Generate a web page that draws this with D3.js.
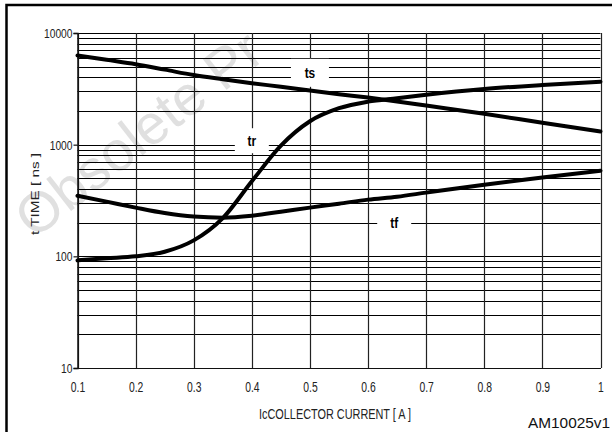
<!DOCTYPE html>
<html>
<head>
<meta charset="utf-8">
<script src="https://cdn.jsdelivr.net/npm/d3@7/dist/d3.min.js"></script>
<style>
html,body{margin:0;padding:0;background:#fff;}
svg{display:block;}
text{font-family:"Liberation Sans",Arial,sans-serif;}
</style>
</head>
<body>
<svg id="chart" width="612" height="432"></svg>
<script>
// ---- data ----
const current = [0.1, 0.15, 0.2, 0.25, 0.3, 0.35, 0.4, 0.45, 0.5, 0.55, 0.6, 0.65, 0.7, 0.8, 0.9, 1.0];
const tsValues = [6300, 5750, 5250, 4700, 4200, 3850, 3550, 3300, 3050, 2830, 2640, 2440, 2240, 1890, 1570, 1310];
const trValues = [92, 96, 100, 110, 139, 220, 470, 980, 1620, 2120, 2430, 2610, 2800, 3150, 3420, 3660];
const tfValues = [349, 309, 273, 244, 227, 222, 231, 251, 273, 296, 322, 342, 372, 438, 507, 585];
const xTickValues = [0.1, 0.2, 0.3, 0.4, 0.5, 0.6, 0.7, 0.8, 0.9, 1];
const xTickLabels = ["0.1", "0.2", "0.3", "0.4", "0.5", "0.6", "0.7", "0.8", "0.9", "1"];
const yTickValues = [10, 100, 1000, 10000];
const yTickLabels = ["10", "100", "1000", "10000"];
const curveNames = ["ts", "tr", "tf"];
const curveLabelX = [0.5, 0.4, 0.645];
const curveLabelY = [4400, 1085, 200];
const xTitle = "IcCOLLECTOR CURRENT  [ A ]";
const yTitle = "t TIME [ ns ]";
const codeLabel = "AM10025v1";
const watermark = "Obsolete Pr";

const svg = d3.select("#chart");
svg.append("rect").attr("width", 612).attr("height", 432).attr("fill", "#fff");

// watermark (behind everything)
svg.append("text")
  .attr("transform", "translate(34,240) rotate(-38)")
  .attr("font-size", 56)
  .attr("fill", "#e0e0e0")
  .text(watermark);

// frame
svg.append("rect").attr("x", 6.5).attr("y", 5).attr("width", 700).attr("height", 600)
  .attr("fill", "none").attr("stroke", "#000").attr("stroke-width", 2.5);

const x = d3.scaleLinear().domain([0.1, 1]).range([77.5, 600.5]);
const y = d3.scaleLog().domain([10, 10000]).range([368, 33]);

const grid = svg.append("g");
// horizontal log grid
const hVals = [];
[10, 100, 1000].forEach(d => { for (let k = 1; k <= 9; k++) hVals.push(d * k); });
hVals.push(10000);
grid.selectAll("line.h").data(hVals).join("line")
  .attr("x1", x(0.1)).attr("x2", x(1))
  .attr("y1", d => Math.round(y(d)) + 0.5).attr("y2", d => Math.round(y(d)) + 0.5)
  .attr("stroke", "#000").attr("stroke-width", 1.2);
// vertical grid
grid.selectAll("line.v").data(xTickValues).join("line")
  .attr("x1", d => Math.round(x(d)) + 0.5).attr("x2", d => Math.round(x(d)) + 0.5)
  .attr("y1", y(10000)).attr("y2", y(10))
  .attr("stroke", "#222").attr("stroke-width", 1.2);

// y axis ticks + labels
const yAxis = d3.axisLeft(y).tickValues(yTickValues).tickSize(4)
  .tickFormat((d, i) => yTickLabels[i]);
const ya = svg.append("g").attr("transform", `translate(${x(0.1)},0)`).call(yAxis);
ya.select(".domain").attr("stroke", "#111").attr("stroke-width", 1.5);
ya.selectAll(".tick line").attr("stroke", "#111").attr("stroke-width", 1.2);
ya.selectAll(".tick text").each(function () {
  const t = d3.select(this);
  t.attr("x", null).attr("dy", null).attr("font-size", 12.5).attr("fill", "#222")
    .attr("font-family", "Liberation Sans, Arial, sans-serif")
    .attr("text-anchor", "end").attr("dominant-baseline", "central")
    .attr("transform", "translate(-5,0) scale(0.82,1)");
});

// x axis labels
const xAxis = d3.axisBottom(x).tickValues(xTickValues).tickSize(0)
  .tickFormat((d, i) => xTickLabels[i]);
const xa = svg.append("g").attr("transform", `translate(0,${y(10)})`).call(xAxis);
xa.select(".domain").attr("stroke", "#111").attr("stroke-width", 1.2);
xa.selectAll(".tick text").each(function () {
  const t = d3.select(this);
  t.attr("y", null).attr("dy", null).attr("font-size", 14).attr("fill", "#222")
    .attr("font-family", "Liberation Sans, Arial, sans-serif")
    .attr("text-anchor", "middle")
    .attr("transform", "translate(0,24) scale(0.74,1)");
});

// label boxes (white) over gridlines
const boxW = [38, 34, 34], boxH = [28, 25, 27];
curveNames.forEach((n, i) => {
  const cx = x(curveLabelX[i]), cy = y(curveLabelY[i]);
  svg.append("rect").attr("x", cx - boxW[i] / 2).attr("y", cy - boxH[i] / 2)
    .attr("width", boxW[i]).attr("height", boxH[i]).attr("fill", "#fff");
  svg.append("text")
    .attr("transform", `translate(${cx},${cy}) scale(0.85,1)`)
    .attr("text-anchor", "middle").attr("dominant-baseline", "central")
    .attr("font-size", 14).attr("font-weight", "bold").attr("fill", "#000")
    .text(n);
});

// curves
const line = d3.line().x(d => x(d[0])).y(d => y(d[1])).curve(d3.curveMonotoneX);
[tsValues, trValues, tfValues].forEach(vals => {
  svg.append("path").datum(current.map((c, i) => [c, vals[i]]))
    .attr("d", line).attr("fill", "none").attr("stroke", "#000")
    .attr("stroke-width", 4).attr("stroke-linecap", "round");
});

// titles
svg.append("text").attr("x", 259).attr("y", 419)
  .attr("font-size", 15).attr("fill", "#222")
  .attr("textLength", 152).attr("lengthAdjust", "spacingAndGlyphs")
  .text(xTitle);
svg.append("text").attr("transform", "translate(39,235) rotate(-90)")
  .attr("font-size", 11.5).attr("fill", "#222")
  .attr("textLength", 82).attr("lengthAdjust", "spacingAndGlyphs")
  .text(yTitle);
svg.append("text").attr("x", 528).attr("y", 428)
  .attr("font-size", 15).attr("fill", "#111")
  .attr("textLength", 82).attr("lengthAdjust", "spacingAndGlyphs")
  .text(codeLabel);
</script>
</body>
</html>
